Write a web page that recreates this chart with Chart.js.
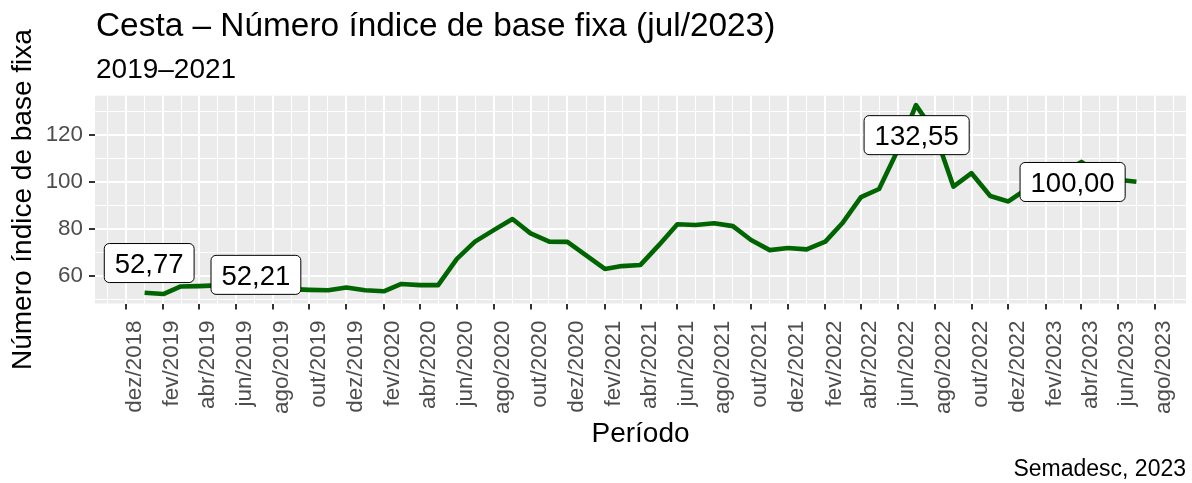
<!DOCTYPE html>
<html><head><meta charset="utf-8">
<script src="https://cdn.jsdelivr.net/npm/chart.js@4/dist/chart.umd.min.js"></script>
<style>html,body{margin:0;padding:0;background:#fff}#wrap{width:1192px;height:483px;position:relative}</style>
</head><body><div id="wrap"><canvas id="c" width="1192" height="483"></canvas></div>
<script>
// ---- data ----
const periodos = [
  '2019-01','2019-02','2019-03','2019-04','2019-05','2019-06','2019-07','2019-08','2019-09','2019-10','2019-11','2019-12',
  '2020-01','2020-02','2020-03','2020-04','2020-05','2020-06','2020-07','2020-08','2020-09','2020-10','2020-11','2020-12',
  '2021-01','2021-02','2021-03','2021-04','2021-05','2021-06','2021-07','2021-08','2021-09','2021-10','2021-11','2021-12',
  '2022-01','2022-02','2022-03','2022-04','2022-05','2022-06','2022-07','2022-08','2022-09','2022-10','2022-11','2022-12',
  '2023-01','2023-02','2023-03','2023-04','2023-05','2023-06','2023-07'
];
const indice = [
  52.77, 52.21, 55.4, 55.6, 55.9, 55.8, 55.4, 54.8, 54.3, 54.0, 53.8, 55.0,
  53.8, 53.4, 56.5, 56.0, 56.0, 67.2, 74.5, 79.4, 84.1, 78.0, 74.5, 74.4,
  68.7, 62.9, 64.1, 64.6, 72.9, 81.9, 81.6, 82.3, 81.1, 75.2, 70.9, 71.8,
  71.2, 74.5, 82.3, 93.4, 96.9, 113.5, 132.55, 121.0, 97.9, 103.6, 93.9, 91.6,
  97.0, 101.0, 104.0, 108.4, 103.0, 100.8, 100.00
];
const xTickPeriodos = ['2018-12','2019-02','2019-04','2019-06','2019-08','2019-10','2019-12',
  '2020-02','2020-04','2020-06','2020-08','2020-10','2020-12',
  '2021-02','2021-04','2021-06','2021-08','2021-10','2021-12',
  '2022-02','2022-04','2022-06','2022-08','2022-10','2022-12',
  '2023-02','2023-04','2023-06','2023-08'];
const xTickLabels = ['dez/2018','fev/2019','abr/2019','jun/2019','ago/2019','out/2019','dez/2019',
  'fev/2020','abr/2020','jun/2020','ago/2020','out/2020','dez/2020',
  'fev/2021','abr/2021','jun/2021','ago/2021','out/2021','dez/2021',
  'fev/2022','abr/2022','jun/2022','ago/2022','out/2022','dez/2022',
  'fev/2023','abr/2023','jun/2023','ago/2023'];
const yTicks = [60, 80, 100, 120];
const rotuloPeriodos = ['2019-01', '2019-02', '2022-07', '2023-07'];
const rotuloTextos = ['52,77', '52,21', '132,55', '100,00'];

// ---- helpers ----
const toDay = p => { const [y, m] = p.split('-').map(Number); return Date.UTC(y, m - 1, 1) / 864e5; };
const xs = periodos.map(toDay);
const points = xs.map((x, i) => ({ x, y: indice[i] }));
const xMajor = xTickPeriodos.map(toDay);
const xMinor = [];
for (let i = 0; i < xMajor.length - 1; i++) xMinor.push((xMajor[i] + xMajor[i + 1]) / 2);
xMinor.unshift(xMajor[0] - (xMajor[1] - xMajor[0]) / 2);
xMinor.push(xMajor[xMajor.length - 1] + (xMajor[xMajor.length - 1] - xMajor[xMajor.length - 2]) / 2);
const xr = xs[xs.length - 1] - xs[0];
const xMin = xs[0] - 0.05 * xr, xMax = xs[xs.length - 1] + 0.05 * xr;
const yLo = Math.min(...indice), yHi = Math.max(...indice), yr = yHi - yLo;
const yMin = yLo - 0.05 * yr, yMax = yHi + 0.05 * yr;
const yMinor = [];
for (let i = 0; i < yTicks.length - 1; i++) yMinor.push((yTicks[i] + yTicks[i + 1]) / 2);
yMinor.unshift(yTicks[0] - (yTicks[1] - yTicks[0]) / 2);
yMinor.push(yTicks[yTicks.length - 1] + (yTicks[1] - yTicks[0]) / 2);

const FONT = "'Liberation Sans', Arial, Helvetica, sans-serif";

function buildTicks(major, minor, lo, hi, labels) {
  const arr = [];
  major.forEach((v, i) => arr.push({ value: v, mj: true, lab: labels ? labels[i] : String(v) }));
  minor.forEach(v => { if (v >= lo && v <= hi) arr.push({ value: v, mj: false, lab: '' }); });
  arr.sort((a, b) => a.value - b.value);
  return arr;
}

const bgPlugin = {
  id: 'bg',
  beforeDraw(chart) {
    const { ctx, chartArea: a } = chart;
    ctx.save();
    ctx.fillStyle = '#EBEBEB';
    ctx.fillRect(a.left, a.top, a.right - a.left, a.bottom - a.top);
    ctx.restore();
  }
};

const labelOffsets = [[4.6, -29.7], [92.6, -19.2], [0.7, 30], [-63.8, 0.3]];
const labelPlugin = {
  id: 'lbls',
  afterDatasetsDraw(chart) {
    const { ctx, scales } = chart;
    ctx.save();
    ctx.font = '27.5px ' + FONT;
    rotuloPeriodos.forEach((p, k) => {
      const i = periodos.indexOf(p);
      const px = scales.x.getPixelForValue(xs[i]) + labelOffsets[k][0];
      const py = scales.y.getPixelForValue(indice[i]) + labelOffsets[k][1];
      const t = rotuloTextos[k];
      const w = ctx.measureText(t).width + 21, h = 39;
      const x0 = px - w / 2, y0 = py - h / 2;
      ctx.beginPath();
      ctx.roundRect(x0, y0, w, h, 5);
      ctx.fillStyle = '#FFFFFF';
      ctx.fill();
      ctx.lineWidth = 1;
      ctx.strokeStyle = '#000000';
      ctx.stroke();
      ctx.fillStyle = '#000000';
      ctx.textAlign = 'center';
      ctx.textBaseline = 'alphabetic';
      ctx.fillText(t, px, py + 9.8);
    });
    ctx.restore();
  }
};

const textPlugin = {
  id: 'texts',
  afterDraw(chart) {
    const { ctx, chartArea: a } = chart;
    ctx.save();
    ctx.fillStyle = '#000000';
    ctx.textBaseline = 'alphabetic';
    ctx.textAlign = 'left';
    ctx.font = '33.4px ' + FONT;
    ctx.fillText('Cesta – Número índice de base fixa (jul/2023)', a.left + 1, 36);
    ctx.font = '28px ' + FONT;
    ctx.fillText('2019–2021', a.left + 1, 78);
    ctx.textAlign = 'center';
    ctx.fillText('Período', (a.left + a.right) / 2, 442);
    ctx.save();
    ctx.translate(31, (a.top + a.bottom) / 2);
    ctx.rotate(-Math.PI / 2);
    ctx.fillText('Número índice de base fixa', 0, 0);
    ctx.restore();
    ctx.textAlign = 'right';
    ctx.font = '23px ' + FONT;
    ctx.fillText('Semadesc, 2023', a.right, 476);
    ctx.restore();
  }
};

new Chart(document.getElementById('c'), {
  type: 'line',
  data: {
    datasets: [{
      data: points,
      borderColor: '#006400',
      borderWidth: 4.6,
      pointRadius: 0,
      pointHoverRadius: 0,
      tension: 0,
      borderJoinStyle: 'round',
      borderCapStyle: 'butt',
      fill: false
    }]
  },
  options: {
    responsive: false,
    animation: false,
    events: [],
    layout: { padding: { top: 95.7, right: 6, left: 0, bottom: 0 } },
    plugins: { legend: { display: false }, tooltip: { enabled: false }, title: { display: false } },
    scales: {
      x: {
        type: 'linear',
        min: xMin, max: xMax,
        afterBuildTicks(s) { s.ticks = buildTicks(xMajor, xMinor, xMin, xMax, xTickLabels); },
        afterFit(s) { s.height = 483 - 303.5; s.paddingLeft = 0; s.paddingRight = 0; },
        border: { display: false },
        grid: {
          color: '#FFFFFF',
          lineWidth: c => (c.tick && c.tick.mj) ? 2 : 1,
          tickColor: c => (c.tick && c.tick.mj) ? '#333333' : 'rgba(0,0,0,0)',
          tickWidth: 2,
          tickLength: 6,
          drawTicks: true
        },
        ticks: {
          autoSkip: false,
          minRotation: 90, maxRotation: 90,
          padding: 11,
          labelOffset: 9,
          color: '#4D4D4D',
          font: { family: FONT, size: 22.4 },
          callback(v, i, ticks) { return ticks[i].lab; }
        }
      },
      y: {
        type: 'linear',
        min: yMin, max: yMax,
        afterBuildTicks(s) { s.ticks = buildTicks(yTicks, yMinor, yMin, yMax, null); },
        afterFit(s) { s.width = 95; s.paddingTop = 0; s.paddingBottom = 0; },
        border: { display: false },
        grid: {
          color: '#FFFFFF',
          lineWidth: c => (c.tick && c.tick.mj) ? 2 : 1,
          tickColor: c => (c.tick && c.tick.mj) ? '#333333' : 'rgba(0,0,0,0)',
          tickWidth: 2,
          tickLength: 6,
          drawTicks: true
        },
        ticks: {
          autoSkip: false,
          padding: 6,
          color: '#4D4D4D',
          font: { family: FONT, size: 22.4 },
          callback(v, i, ticks) { return ticks[i].lab; }
        }
      }
    }
  },
  plugins: [bgPlugin, labelPlugin, textPlugin]
});
</script></body></html>
